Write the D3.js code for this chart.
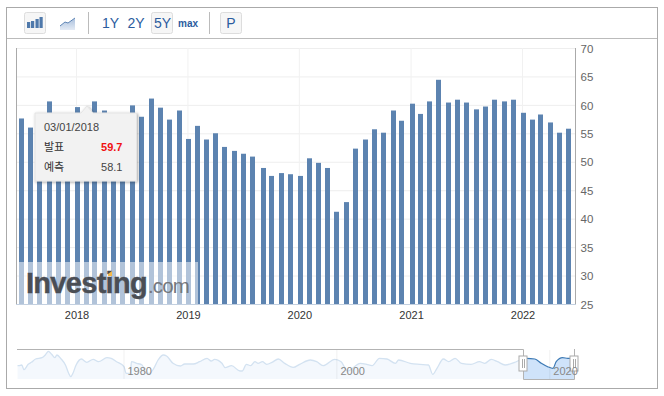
<!DOCTYPE html>
<html>
<head>
<meta charset="utf-8">
<script src="https://cdn.jsdelivr.net/npm/d3@7"></script>
<style>
  html, body { margin: 0; padding: 0; background: #fff; }
  svg { display: block; font-family: "Liberation Sans", Arial, sans-serif; }
  .ko { font-family: "Noto Sans CJK KR", sans-serif; }
</style>
</head>
<body>
<div id="chart"></div>
<script>
// release dates and values of the bars
const releaseDates = [
  '2017-07-03','2017-08-01','2017-09-01','2017-10-02','2017-11-01','2017-12-01',
  '2018-01-03','2018-02-01','2018-03-01','2018-04-02','2018-05-01','2018-06-01',
  '2018-07-02','2018-08-01','2018-09-04','2018-10-01','2018-11-01','2018-12-03',
  '2019-01-03','2019-02-01','2019-03-01','2019-04-01','2019-05-01','2019-06-03',
  '2019-07-01','2019-08-01','2019-09-03','2019-10-01','2019-11-01','2019-12-02',
  '2020-01-03','2020-02-03','2020-03-02','2020-04-01','2020-05-01','2020-06-01',
  '2020-07-01','2020-08-03','2020-09-01','2020-10-01','2020-11-02','2020-12-01',
  '2021-01-05','2021-02-01','2021-03-01','2021-04-01','2021-05-03','2021-06-01',
  '2021-07-01','2021-08-02','2021-09-01','2021-10-01','2021-11-01','2021-12-01',
  '2022-01-04','2022-02-01','2022-03-01','2022-04-01','2022-05-02','2022-06-01'
];
const actualValues = [
  57.7, 56.1, 58.6, 60.7, 58.5, 58.0,
  59.7, 59.0, 60.7, 59.1, 57.2, 58.5,
  60.0, 58.0, 61.2, 59.6, 57.5, 59.1,
  54.1, 56.4, 54.0, 55.1, 52.7, 52.0,
  51.5, 51.0, 49.0, 47.6, 48.1, 47.9,
  47.6, 50.7, 49.9, 49.0, 41.3, 43.0,
  52.4, 54.0, 55.8, 55.2, 59.1, 57.3,
  60.3, 58.5, 60.7, 64.5, 60.5, 61.0,
  60.5, 59.3, 59.8, 61.0, 60.7, 61.0,
  58.7, 57.5, 58.4, 57.0, 55.2, 55.9
];
const yTicks = [25, 30, 35, 40, 45, 50, 55, 60, 65, 70];
const yearTicks = ['2018-01-01', '2019-01-01', '2020-01-01', '2021-01-01', '2022-01-01'];
const rangeButtons = ['1Y', '2Y', '5Y', 'max'];

// navigator overview
const navYears = [
  1970, 1970.1, 1970.4, 1970.6, 1971, 1971.3, 1971.7, 1972.3, 1972.6, 1972.9, 1973.2, 1973.5,
  1973.7, 1974.1, 1974.5, 1974.8, 1975, 1975.2, 1975.5, 1976, 1976.5, 1977.1, 1977.6, 1978.4,
  1978.8, 1979.3, 1980, 1980.2, 1980.6, 1980.7, 1981.2, 1981.7, 1982.1, 1982.4, 1982.8, 1983.2,
  1983.7, 1984, 1984.6, 1985.3, 1985.7, 1986.5, 1987.1, 1987.8, 1988.2, 1988.5, 1989.2, 1989.5,
  1990.1, 1990.9, 1991.1, 1991.5, 1991.9, 1992.3, 1992.6, 1993, 1993.4, 1993.9, 1994.5, 1995.1,
  1995.9, 1996.5, 1997.5, 1998.1, 1998.7, 1999.8, 2000.4, 2001, 2002.2, 2002.8, 2003.3, 2004,
  2004.7, 2005.5, 2005.8, 2006.9, 2007.8, 2008.6, 2009, 2009.4, 2010, 2010.5, 2011.1, 2011.7,
  2012.6, 2013.4, 2013.9, 2014.5, 2015.1, 2015.8, 2016.7, 2017.2, 2017.8, 2018.6, 2019.2, 2019.8,
  2020.3, 2020.6, 2021.2, 2021.7, 2022.4
];
const navValues = [
  48.5, 48.5, 49.6, 42.1, 50.7, 53.9, 59.2, 61.3, 65.6, 71.5, 66.7, 61.3,
  65.6, 59.2, 49.6, 36.3, 30.9, 36.3, 49.6, 59.2, 53.9, 58.7, 54.9, 61.3,
  60.3, 54.9, 46.9, 36.3, 36.3, 54.9, 52.3, 49.6, 36.3, 36.3, 44.3, 57.6,
  65.6, 64, 52.3, 48, 51.2, 51.2, 54.9, 60.3, 56, 58.7, 52.3, 45.3,
  48.5, 40, 40, 50.7, 48.5, 54.9, 52.3, 54.9, 50.7, 53.9, 59.2, 52.3,
  45.9, 50.7, 57.6, 54.9, 48.5, 58.7, 54.9, 40, 52.3, 50.7, 48.5, 60.3,
  59.2, 52.3, 57.6, 52.3, 50.7, 49.6, 34.7, 44.3, 59.2, 54.9, 60.3, 52.3,
  50.7, 54.9, 52.3, 58.7, 54.9, 49.6, 53.9, 57.6, 60.3, 59.2, 52.3, 46.9,
  44.3, 54.9, 61.3, 60.3, 60.3
];
const navTicks = [1980, 2000, 2020];

const width = 664, height = 396;
const barWidth = 5;
const barColor = '#5c83b0';
const linkColor = '#2b5c9e';

const svg = d3.select('#chart').append('svg')
  .attr('width', width)
  .attr('height', height);

const defs = svg.append('defs');
const shadow = defs.append('filter').attr('id', 'tipShadow')
  .attr('x', '-10%').attr('y', '-10%').attr('width', '125%').attr('height', '125%');
shadow.append('feDropShadow')
  .attr('dx', 1).attr('dy', 1).attr('stdDeviation', 1.5)
  .attr('flood-color', '#000').attr('flood-opacity', 0.35);
const iconFill = defs.append('linearGradient').attr('id', 'iconFill')
  .attr('x1', 0).attr('y1', 0).attr('x2', 0).attr('y2', 1);
iconFill.append('stop').attr('offset', 0).attr('stop-color', '#a9bfdc');
iconFill.append('stop').attr('offset', 1).attr('stop-color', '#e4ebf5');

// outer frame and toolbar divider
svg.append('rect')
  .attr('x', 6.5).attr('y', 7.5).attr('width', 651).attr('height', 381)
  .attr('fill', '#fff').attr('stroke', '#aaa');
svg.append('line')
  .attr('x1', 7).attr('x2', 657).attr('y1', 38.5).attr('y2', 38.5)
  .attr('stroke', '#bbb');

// toolbar
function drawButton(x, w) {
  svg.append('rect')
    .attr('x', x).attr('y', 12.5).attr('width', w).attr('height', 21).attr('rx', 2)
    .attr('fill', '#f6f6f6').attr('stroke', '#ddd');
}
drawButton(24.5, 21);
drawButton(151.5, 21);
drawButton(220.5, 21);

[[27, 6], [31, 7], [35.5, 9], [39.5, 11]].forEach(([bx, bh]) => {
  svg.append('rect')
    .attr('x', bx).attr('y', 28 - bh).attr('width', 3.2).attr('height', bh)
    .attr('fill', '#4f79ab');
});
svg.append('path')
  .attr('d', 'M60,26 L65,22 L68,23 L75,18 L75,30 L60,30 Z')
  .attr('fill', 'url(#iconFill)');
svg.append('path')
  .attr('d', 'M60,26 L65,22 L68,23 L75,18')
  .attr('fill', 'none').attr('stroke', '#5f86b6');

[88.5, 209.5].forEach(x => {
  svg.append('line')
    .attr('x1', x).attr('x2', x).attr('y1', 12).attr('y2', 34)
    .attr('stroke', '#bbb');
});

const buttonCenters = [110.5, 136, 162.5, 188];
svg.selectAll('.range-button')
  .data(rangeButtons)
  .enter()
  .append('text')
  .attr('class', 'range-button')
  .attr('x', (d, i) => buttonCenters[i])
  .attr('y', d => d === 'max' ? 27 : 28)
  .attr('text-anchor', 'middle')
  .attr('fill', linkColor)
  .attr('font-size', d => d === 'max' ? 10 : 14)
  .attr('font-weight', d => d === 'max' ? 'bold' : 'normal')
  .text(d => d);
svg.append('text')
  .attr('x', 231).attr('y', 28)
  .attr('text-anchor', 'middle')
  .attr('fill', linkColor)
  .attr('font-size', 14)
  .text('P');

// scales
const parseDay = d3.utcParse('%Y-%m-%d');
const x = d3.scaleUtc()
  .domain([parseDay('2018-01-01'), parseDay('2022-01-01')])
  .range([76.5, 522.5]);
const y = d3.scaleLinear()
  .domain([25, 70])
  .range([304.5, 48.5]);

// grid
svg.append('g').selectAll('line')
  .data(yTicks.slice(1))
  .enter()
  .append('line')
  .attr('x1', 16).attr('x2', 575)
  .attr('y1', d => y(d)).attr('y2', d => y(d))
  .attr('stroke', '#eeeeee');
svg.append('g').selectAll('line')
  .data(yearTicks)
  .enter()
  .append('line')
  .attr('x1', d => x(parseDay(d))).attr('x2', d => x(parseDay(d)))
  .attr('y1', 48).attr('y2', 304)
  .attr('stroke', '#f1f1f1');

// bars
svg.append('g').selectAll('rect')
  .data(actualValues)
  .enter()
  .append('rect')
  .attr('x', (d, i) => Math.round(x(parseDay(releaseDates[i])) - barWidth / 2 + 0.3))
  .attr('width', barWidth)
  .attr('y', d => y(d))
  .attr('height', d => y(25) - y(d))
  .attr('fill', barColor);

// axis lines
svg.append('line').attr('x1', 16.5).attr('x2', 16.5).attr('y1', 48).attr('y2', 305).attr('stroke', '#aaa');
svg.append('line').attr('x1', 575.5).attr('x2', 575.5).attr('y1', 48).attr('y2', 305).attr('stroke', '#aaa');
svg.append('line').attr('x1', 16).attr('x2', 576).attr('y1', 304.5).attr('y2', 304.5).attr('stroke', '#c3d0e0');

const yAxis = svg.append('g')
  .attr('transform', 'translate(575.5,0)')
  .call(d3.axisRight(y).tickValues(yTicks).tickSize(0).tickPadding(5));
yAxis.select('.domain').remove();
yAxis.selectAll('text')
  .attr('font-family', '"Liberation Sans", Arial, sans-serif')
  .attr('font-size', 11.5)
  .attr('fill', '#666');

const xAxis = svg.append('g')
  .attr('transform', 'translate(0,304.5)')
  .call(d3.axisBottom(x)
    .tickValues(yearTicks.map(parseDay))
    .tickFormat(d3.utcFormat('%Y'))
    .tickSize(0)
    .tickPadding(7));
xAxis.select('.domain').remove();
xAxis.selectAll('text')
  .attr('font-family', '"Liberation Sans", Arial, sans-serif')
  .attr('font-size', 11)
  .attr('fill', '#333');

// watermark
svg.append('rect')
  .attr('x', 19).attr('y', 262).attr('width', 179).attr('height', 42)
  .attr('fill', '#fff').attr('opacity', 0.52);
svg.append('text')
  .attr('x', 26).attr('y', 293)
  .attr('font-size', 29).attr('font-weight', 'bold')
  .attr('letter-spacing', -0.7)
  .attr('fill', '#4a4e55')
  .attr('stroke', '#4a4e55').attr('stroke-width', 0.4)
  .text('Investing');
svg.append('text')
  .attr('x', 148).attr('y', 293)
  .attr('font-size', 20.5)
  .attr('letter-spacing', -0.9)
  .attr('fill', '#74777c')
  .text('.com');
svg.append('path')
  .attr('d', 'M108,274 L112,271 L112,276 L108,276 Z')
  .attr('fill', '#f5b94a');

// tooltip
svg.append('path')
  .attr('d', 'M35,113 L81,113 L87,106 L93,113 L136.5,113 L136.5,181 L35,181 Z')
  .attr('fill', '#f2f2f2')
  .attr('stroke', '#e4e4e4')
  .attr('filter', 'url(#tipShadow)');
svg.append('text')
  .attr('x', 44).attr('y', 131)
  .attr('font-size', 11).attr('fill', '#444')
  .text('03/01/2018');
svg.append('text').attr('class', 'ko')
  .attr('x', 44).attr('y', 151)
  .attr('font-size', 11).attr('fill', '#333')
  .text('발표');
svg.append('text')
  .attr('x', 122.5).attr('y', 151)
  .attr('text-anchor', 'end')
  .attr('font-size', 11).attr('font-weight', 'bold').attr('fill', '#f01010')
  .text('59.7');
svg.append('text').attr('class', 'ko')
  .attr('x', 44).attr('y', 171)
  .attr('font-size', 11).attr('fill', '#333')
  .text('예측');
svg.append('text')
  .attr('x', 122.5).attr('y', 171)
  .attr('text-anchor', 'end')
  .attr('font-size', 11).attr('fill', '#444')
  .text('58.1');

// navigator
const navX = d3.scaleLinear().domain([1980, 2000]).range([124, 336.9]);
const navY = d3.scaleLinear().domain([30.9, 72]).range([376.7, 351]);
const navPoints = navYears.map((yr, i) => ({ yr: yr, value: navValues[i] }));
const navBottom = 379;
const selectStart = 523.5, selectEnd = 574.5;

const navArea = d3.area()
  .x(d => navX(d.yr))
  .y0(navBottom)
  .y1(d => navY(d.value))
  .curve(d3.curveMonotoneX);
const navLine = d3.line()
  .x(d => navX(d.yr))
  .y(d => navY(d.value))
  .curve(d3.curveMonotoneX);

defs.append('clipPath').attr('id', 'navOutside').append('rect')
  .attr('x', 17).attr('y', 345).attr('width', selectStart - 17).attr('height', 40);
defs.append('clipPath').attr('id', 'navInside').append('rect')
  .attr('x', selectStart).attr('y', 345).attr('width', selectEnd - selectStart).attr('height', 40);

svg.append('path').datum(navPoints)
  .attr('d', navArea).attr('fill', '#f4f8fd')
  .attr('clip-path', 'url(#navOutside)');
svg.append('path').datum(navPoints)
  .attr('d', navLine).attr('fill', 'none').attr('stroke', '#d3e2f1').attr('stroke-width', 1.3)
  .attr('clip-path', 'url(#navOutside)');
svg.append('path').datum(navPoints)
  .attr('d', navArea).attr('fill', '#cfe3fa')
  .attr('clip-path', 'url(#navInside)');
svg.append('path').datum(navPoints)
  .attr('d', navLine).attr('fill', 'none').attr('stroke', '#3d7ab5').attr('stroke-width', 1.2)
  .attr('clip-path', 'url(#navInside)');

svg.append('g').selectAll('line')
  .data(navTicks)
  .enter()
  .append('line')
  .attr('x1', d => navX(d)).attr('x2', d => navX(d))
  .attr('y1', 350).attr('y2', 379)
  .attr('stroke', '#000').attr('stroke-opacity', 0.06);

svg.append('path')
  .attr('d', `M17,349.5 L${selectStart},349.5 L${selectStart},379.5 L${selectEnd},379.5 L${selectEnd},349`)
  .attr('fill', 'none').attr('stroke', '#b3b3b3');

[selectStart, selectEnd].forEach(cx => {
  svg.append('rect')
    .attr('x', cx - 4.5).attr('y', 356).attr('width', 8).attr('height', 15)
    .attr('fill', '#fff').attr('stroke', '#aaa');
  [-1.5, 0.5].forEach(dx => {
    svg.append('line')
      .attr('x1', Math.round(cx + dx) + 0.5).attr('x2', Math.round(cx + dx) + 0.5)
      .attr('y1', 359).attr('y2', 368)
      .attr('stroke', '#aaa');
  });
});

// labels go over the handles
svg.append('g').selectAll('text')
  .data(navTicks)
  .enter()
  .append('text')
  .attr('x', d => navX(d) + 3.5)
  .attr('y', 375)
  .attr('font-size', 11)
  .attr('fill', '#888')
  .text(d => d);
</script>
</body>
</html>
